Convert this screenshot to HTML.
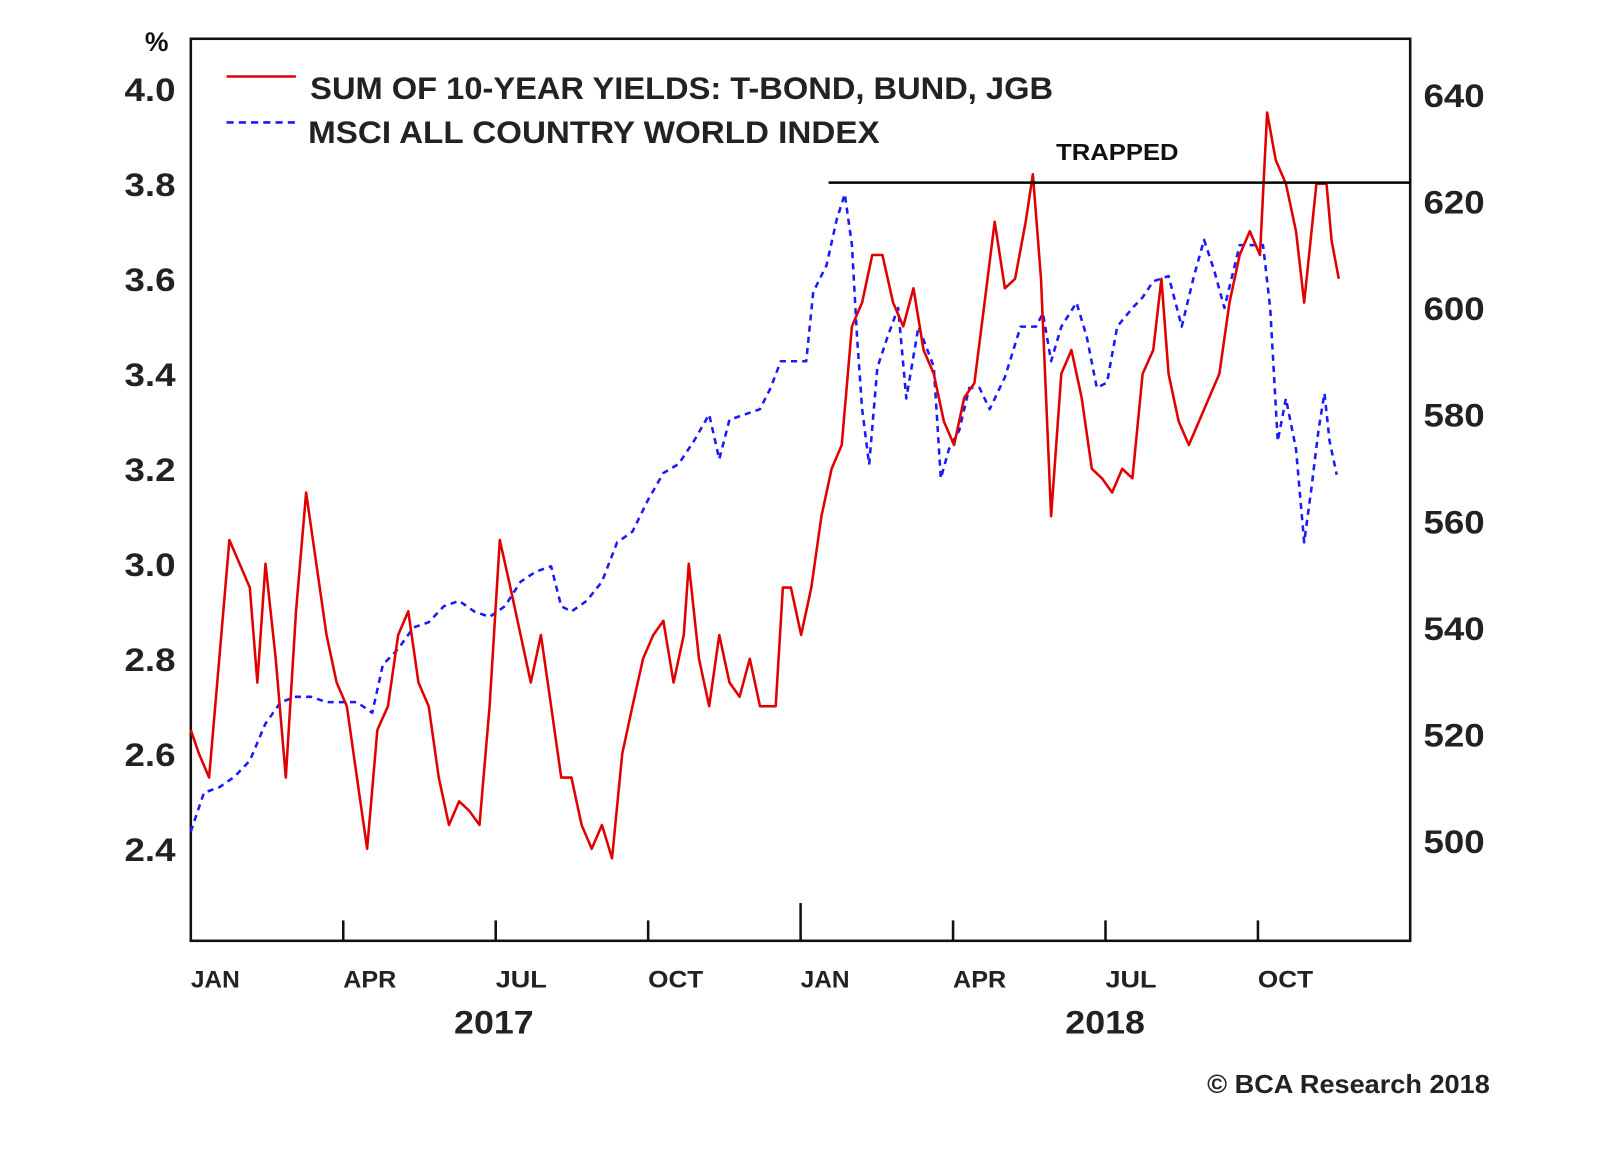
<!DOCTYPE html>
<html><head><meta charset="utf-8">
<style>
html,body{margin:0;padding:0;background:#fff;}
svg{display:block;font-family:"Liberation Sans",Arial,sans-serif;}
</style></head>
<body>
<svg id="chart" width="1600" height="1152" viewBox="0 0 1600 1152" xmlns="http://www.w3.org/2000/svg">
 <g transform="scale(1.0204)">
  <rect x="187" y="38" width="1195" height="884" fill="none" stroke="#111" stroke-width="2.5"/>
  <g id="marks"></g>
  <g id="axes"></g>
  <line x1="812" y1="179" x2="1382" y2="179" stroke="#000" stroke-width="2.5"/>
  <text x="1035" y="157" font-size="23" font-weight="bold" fill="#111" textLength="120" lengthAdjust="spacingAndGlyphs">TRAPPED</text>
  <text x="142" y="50" font-size="26" font-weight="bold" fill="#111">%</text>
  <g>
    <line x1="222" y1="75" x2="290" y2="75" stroke="#e00000" stroke-width="2.5"/>
    <text x="304" y="97" font-size="31" font-weight="bold" fill="#222" textLength="728" lengthAdjust="spacingAndGlyphs">SUM OF 10-YEAR YIELDS: T-BOND, BUND, JGB</text>
    <line x1="222" y1="120" x2="290" y2="120" stroke="#1a1aff" stroke-width="2.5" stroke-dasharray="7,5"/>
    <text x="302" y="140" font-size="31" font-weight="bold" fill="#222" textLength="560" lengthAdjust="spacingAndGlyphs">MSCI ALL COUNTRY WORLD INDEX</text>
  </g>
  <text x="445" y="1013" font-size="32" font-weight="bold" fill="#222" textLength="78" lengthAdjust="spacingAndGlyphs">2017</text>
  <text x="1044" y="1013" font-size="32" font-weight="bold" fill="#222" textLength="78" lengthAdjust="spacingAndGlyphs">2018</text>
  <text x="1183" y="1071" font-size="25" font-weight="bold" fill="#222" textLength="277" lengthAdjust="spacingAndGlyphs">© BCA Research 2018</text>
 </g>
</svg>
<script>
const redT = [0,0.16,0.36,0.56,0.76,0.96,1.16,1.31,1.47,1.67,1.87,2.07,2.27,2.47,2.67,2.87,3.07,3.27,3.47,3.67,3.88,4.08,4.28,4.48,4.68,4.88,5.08,5.28,5.48,5.68,5.88,6.08,6.29,6.49,6.69,6.89,7.09,7.29,7.49,7.69,7.89,8.09,8.29,8.49,8.69,8.90,9.10,9.30,9.50,9.70,9.80,10.00,10.20,10.40,10.60,10.80,11.00,11.20,11.51,11.65,11.81,12.01,12.21,12.41,12.61,12.81,13.01,13.21,13.41,13.61,13.82,14.02,14.22,14.42,14.62,14.82,15.02,15.22,15.42,15.62,15.82,16.02,16.22,16.43,16.57,16.73,16.93,17.13,17.33,17.53,17.73,17.93,18.13,18.33,18.53,18.73,18.94,19.10,19.24,19.44,19.64,19.84,20.04,20.24,20.44,20.64,20.84,21.04,21.18,21.35,21.55,21.75,21.91,22.15,22.35,22.45,22.59];
const redV = [2.65,2.6,2.55,2.8,3.05,3.0,2.95,2.75,3.0,2.8,2.55,2.9,3.15,3.0,2.85,2.75,2.7,2.55,2.4,2.65,2.7,2.85,2.9,2.75,2.7,2.55,2.45,2.5,2.48,2.45,2.7,3.05,2.95,2.85,2.75,2.85,2.7,2.55,2.55,2.45,2.4,2.45,2.38,2.6,2.7,2.8,2.85,2.88,2.75,2.85,3.0,2.8,2.7,2.85,2.75,2.72,2.8,2.7,2.7,2.95,2.95,2.85,2.95,3.1,3.2,3.25,3.5,3.55,3.65,3.65,3.55,3.5,3.58,3.45,3.4,3.3,3.25,3.35,3.38,3.55,3.72,3.58,3.6,3.72,3.82,3.6,3.1,3.4,3.45,3.35,3.2,3.18,3.15,3.2,3.18,3.4,3.45,3.6,3.4,3.3,3.25,3.3,3.35,3.4,3.55,3.65,3.7,3.65,3.95,3.85,3.8,3.7,3.55,3.8,3.8,3.68,3.6];
const blueT = [0,0.26,0.56,0.86,1.16,1.47,1.77,2.07,2.37,2.67,2.97,3.27,3.57,3.78,4.08,4.38,4.68,4.98,5.28,5.58,5.88,6.18,6.49,6.79,7.09,7.29,7.49,7.79,8.09,8.39,8.69,9.00,9.30,9.60,9.90,10.20,10.40,10.60,10.90,11.20,11.41,11.61,11.91,12.11,12.25,12.51,12.71,12.87,13.01,13.11,13.21,13.35,13.51,13.71,13.92,14.08,14.32,14.62,14.76,14.92,15.12,15.32,15.52,15.72,16.02,16.33,16.63,16.77,16.93,17.13,17.43,17.63,17.83,18.03,18.23,18.53,18.73,18.94,19.24,19.50,19.74,19.94,20.14,20.34,20.64,20.84,21.10,21.24,21.39,21.55,21.75,21.91,22.05,22.19,22.31,22.41,22.55];
const blueV = [501.7,509,510,512,515,522,526,527,527,526,526,526,524,533,536,540,541,544,545,543,542,544,548.6,550.5,551.5,544,543,545,548.6,556,558,564,569,570.7,575,580,571.6,579,580,581,585,590,590,590,603,608,616.6,621.4,611.8,594.6,581,570.6,588.8,594.6,600,583,596.5,589,568,573.5,577,585,585,581,587,596.5,596.5,599,590,596.5,601,594.6,585,586,596.5,600,602,605,606,596.5,606,612.8,607,600,611.8,611.8,611.8,600,575,583,573.5,556,566,577,584,575,568.7];
const leftTicks = [2.4,2.6,2.8,3.0,3.2,3.4,3.6,3.8,4.0];
const rightTicks = [500,520,540,560,580,600,620,640];
const monthTicks = [0,3,6,9,12,15,18,21];
const monthLabels = ["JAN","APR","JUL","OCT","JAN","APR","JUL","OCT"];

const NS = "http://www.w3.org/2000/svg";
function xS(m){ return 187 + m*49.8; }
function yL(v){ return 87 + (4.0 - v)/0.2*93.1; }
function yR(v){ return 93 + (640 - v)/20*104.4; }
const marks = document.getElementById('marks');
const axes = document.getElementById('axes');
const labW = {JAN:48,APR:52,JUL:50,OCT:54};

function mkPath(T,V,yf,color,dash,name){
  let d = T.map((t,i)=>(i?'L':'M')+xS(t).toFixed(1)+','+yf(V[i]).toFixed(1)).join(' ');
  const p = document.createElementNS(NS,'path');
  p.setAttribute('d',d);
  p.setAttribute('fill','none');
  p.setAttribute('stroke',color);
  p.setAttribute('stroke-width','2.5');
  p.setAttribute('stroke-linejoin','round');
  if(dash) p.setAttribute('stroke-dasharray',dash);
  
  
  marks.appendChild(p);
}
mkPath(blueT,blueV,yR,'#1a1aff','6,5','msci-line');
mkPath(redT,redV,yL,'#e00000',null,'yields-line');

leftTicks.forEach(v=>{
  const t = document.createElementNS(NS,'text');
  t.setAttribute('x',122); t.setAttribute('y',(yL(v)+12).toFixed(1));
  t.setAttribute('font-size','32'); t.setAttribute('font-weight','bold'); t.setAttribute('fill','#222');
  t.setAttribute('textLength','50'); t.setAttribute('lengthAdjust','spacingAndGlyphs');
  t.textContent = v.toFixed(1);
  
  
  axes.appendChild(t);
});
rightTicks.forEach(v=>{
  const t = document.createElementNS(NS,'text');
  t.setAttribute('x',1395); t.setAttribute('y',(yR(v)+12).toFixed(1));
  t.setAttribute('font-size','32'); t.setAttribute('font-weight','bold'); t.setAttribute('fill','#222');
  t.setAttribute('textLength','60'); t.setAttribute('lengthAdjust','spacingAndGlyphs');
  t.textContent = v;
  
  
  axes.appendChild(t);
});
monthTicks.forEach((m,i)=>{
  const x = xS(m);
  if(m>0){
    const l = document.createElementNS(NS,'line');
    l.setAttribute('x1',x); l.setAttribute('x2',x);
    l.setAttribute('y1', m===12 ? 885 : 902); l.setAttribute('y2',922);
    l.setAttribute('stroke','#111'); l.setAttribute('stroke-width','2.5');
    
    
    axes.appendChild(l);
  }
  const t = document.createElementNS(NS,'text');
  t.setAttribute('x',x); t.setAttribute('y',968);
  t.setAttribute('font-size','24'); t.setAttribute('font-weight','bold'); t.setAttribute('fill','#222');
  t.setAttribute('textLength',labW[monthLabels[i]]); t.setAttribute('lengthAdjust','spacingAndGlyphs');
  t.textContent = monthLabels[i];
  
  
  axes.appendChild(t);
});
</script>
</body></html>
